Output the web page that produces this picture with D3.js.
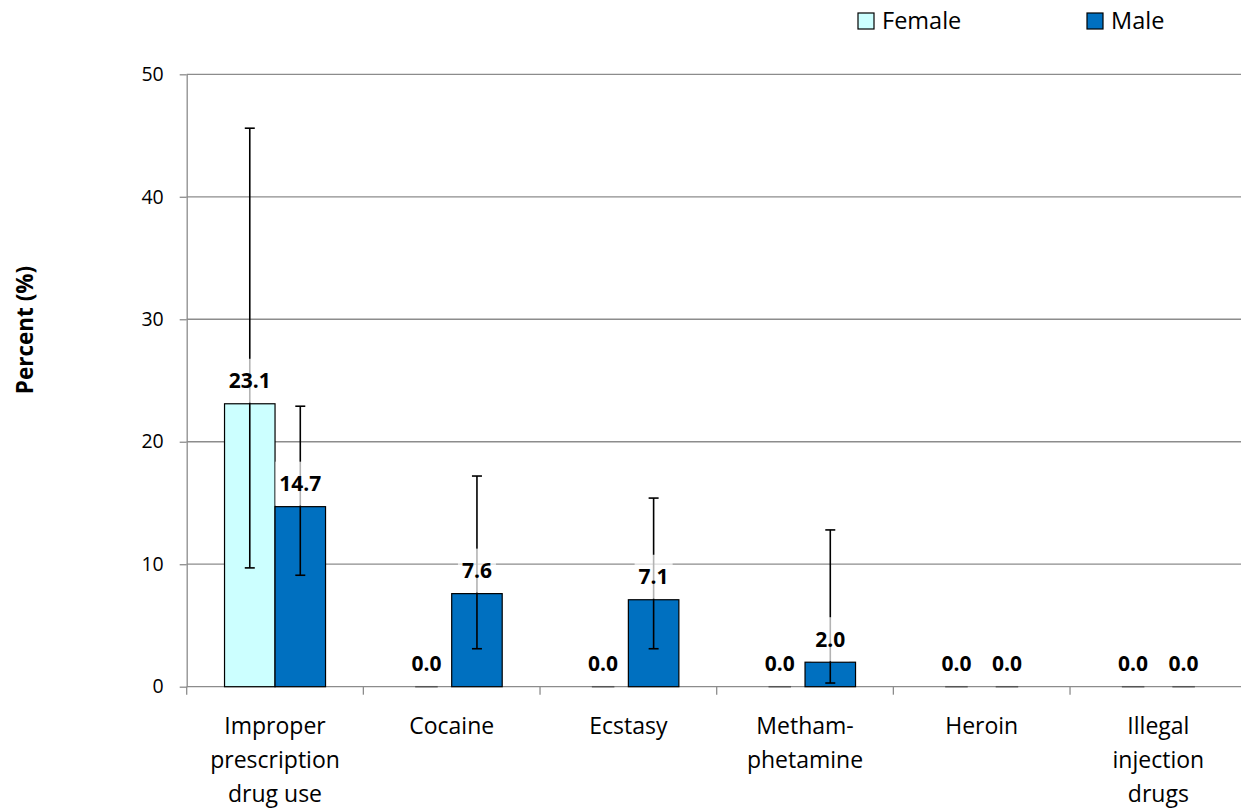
<!DOCTYPE html>
<html>
<head>
<meta charset="utf-8">
<script src="https://cdn.jsdelivr.net/npm/d3@7"></script>
<style>
  body { margin: 0; background: #fff; }
  text { font-family: "Open Sans", Lato, sans-serif; }
</style>
</head>
<body>
<div id="chart"></div>
<script>
const categories = ["Improper prescription drug use", "Cocaine", "Ecstasy", "Methamphetamine", "Heroin", "Illegal injection drugs"];
const categoryLines = [["Improper", "prescription", "drug use"], ["Cocaine"], ["Ecstasy"], ["Metham-", "phetamine"], ["Heroin"], ["Illegal", "injection", "drugs"]];
const series = ["Female", "Male"];
const female = [23.1, 0.0, 0.0, 0.0, 0.0, 0.0];
const male = [14.7, 7.6, 7.1, 2.0, 0.0, 0.0];
const femaleLow = [9.7, null, null, null, null, null];
const femaleHigh = [45.6, null, null, null, null, null];
const maleLow = [9.1, 3.1, 3.1, 0.3, null, null];
const maleHigh = [22.9, 17.2, 15.4, 12.8, null, null];
const yTicks = [0, 10, 20, 30, 40, 50];
const colors = ["#ccffff", "#0070c0"];

const width = 1241, height = 809;
const plotLeft = 186.7, plotRight = 1246.7, plotTop = 74.3, plotBottom = 686.7;

const svg = d3.select("#chart").append("svg").attr("width", width).attr("height", height);

const x = d3.scaleBand().domain(categories).range([plotLeft, plotRight]).padding(0);
const y = d3.scaleLinear().domain([0, 50]).range([plotBottom, plotTop]);

// gridlines
svg.append("g")
  .selectAll("line")
  .data(yTicks.slice(1))
  .join("line")
  .attr("x1", plotLeft).attr("x2", plotRight)
  .attr("y1", d => y(d)).attr("y2", d => y(d))
  .attr("stroke", "#8c8c8c").attr("stroke-width", 1.3);

// y axis
const yAxis = svg.append("g")
  .attr("transform", `translate(${plotLeft},0)`)
  .call(d3.axisLeft(y).tickValues(yTicks).tickSize(7).tickPadding(16).tickSizeOuter(0));
yAxis.select(".domain").attr("stroke", "#8c8c8c").attr("stroke-width", 1.3);
yAxis.selectAll(".tick line").attr("stroke", "#8c8c8c").attr("stroke-width", 1.3);
yAxis.selectAll(".tick text").attr("font-size", 19.5).attr("fill", "#000").attr("font-family", "'Open Sans', sans-serif");

// x axis baseline + boundary ticks
svg.append("line")
  .attr("x1", plotLeft).attr("x2", plotRight).attr("y1", plotBottom).attr("y2", plotBottom)
  .attr("stroke", "#8c8c8c").attr("stroke-width", 1.3);
svg.append("g")
  .selectAll("line")
  .data(categories)
  .join("line")
  .attr("x1", d => x(d)).attr("x2", d => x(d))
  .attr("y1", plotBottom).attr("y2", plotBottom + 8)
  .attr("stroke", "#8c8c8c").attr("stroke-width", 1.3);

// category labels
const catG = svg.append("g");
categories.forEach((c, i) => {
  const cx = x(c) + x.bandwidth() / 2;
  const t = catG.append("text")
    .attr("x", cx)
    .attr("y", 734)
    .attr("text-anchor", "middle")
    .attr("font-size", 23)
    .attr("fill", "#000");
  categoryLines[i].forEach((ln, j) => {
    t.append("tspan").attr("x", cx).attr("dy", j === 0 ? 0 : 34).text(ln);
  });
});

// bars
const barW = 50.5;
const rows = categories.map((c, i) => ({
  cat: c,
  vals: [
    { s: 0, v: female[i], lo: femaleLow[i], hi: femaleHigh[i] },
    { s: 1, v: male[i], lo: maleLow[i], hi: maleHigh[i] }
  ]
}));
const barX = (c, s) => x(c) + x.bandwidth() / 2 + (s === 0 ? -barW : 0);

const barG = svg.append("g");
rows.forEach(r => {
  r.vals.forEach(d => {
    if (d.v > 0) {
      barG.append("rect")
        .attr("x", barX(r.cat, d.s))
        .attr("y", y(d.v))
        .attr("width", barW)
        .attr("height", y(0) - y(d.v))
        .attr("fill", colors[d.s])
        .attr("stroke", "#000")
        .attr("stroke-width", 1.2);
    } else {
      barG.append("line")
        .attr("x1", barX(r.cat, d.s) + 14).attr("x2", barX(r.cat, d.s) + barW - 14)
        .attr("y1", y(0)).attr("y2", y(0))
        .attr("stroke", "#555").attr("stroke-width", 1.5);
    }
  });
});

// error bars
const errG = svg.append("g").attr("stroke", "#000").attr("stroke-width", 1.6);
rows.forEach(r => {
  r.vals.forEach(d => {
    if (d.lo == null) return;
    const cx = barX(r.cat, d.s) + barW / 2;
    errG.append("line").attr("x1", cx).attr("x2", cx).attr("y1", y(d.lo)).attr("y2", y(d.hi));
    errG.append("line").attr("x1", cx - 5).attr("x2", cx + 5).attr("y1", y(d.lo)).attr("y2", y(d.lo));
    errG.append("line").attr("x1", cx - 5).attr("x2", cx + 5).attr("y1", y(d.hi)).attr("y2", y(d.hi));
  });
});

// value labels with light white boxes
const labG = svg.append("g");
rows.forEach(r => {
  r.vals.forEach(d => {
    const cx = barX(r.cat, d.s) + barW / 2;
    const cy = y(d.v) - 23;
    const t = labG.append("text")
      .attr("x", cx).attr("y", cy + 7.5)
      .attr("text-anchor", "middle")
      .attr("font-size", 21).attr("font-weight", "bold")
      .attr("fill", "#000")
      .text(d.v.toFixed(1));
    const bb = t.node().getBBox();
    labG.insert("rect", "text")
      .attr("x", bb.x - 4).attr("y", cy - 22)
      .attr("width", bb.width + 8).attr("height", 44)
      .attr("fill", "#fff").attr("opacity", 0.7);
  });
});

// y axis title
svg.append("text")
  .attr("transform", "translate(33,330) rotate(-90)")
  .attr("text-anchor", "middle")
  .attr("font-size", 22.5).attr("font-weight", "bold")
  .text("Percent (%)");

// legend
const legendX = [858, 1087];
const lg = svg.append("g");
series.forEach((s, i) => {
  lg.append("rect")
    .attr("x", legendX[i]).attr("y", 13)
    .attr("width", 16).attr("height", 16)
    .attr("fill", colors[i]).attr("stroke", "#000").attr("stroke-width", 1.2);
  lg.append("text")
    .attr("x", legendX[i] + 24).attr("y", 29)
    .attr("font-size", 23.5)
    .text(s);
});
</script>
</body>
</html>
